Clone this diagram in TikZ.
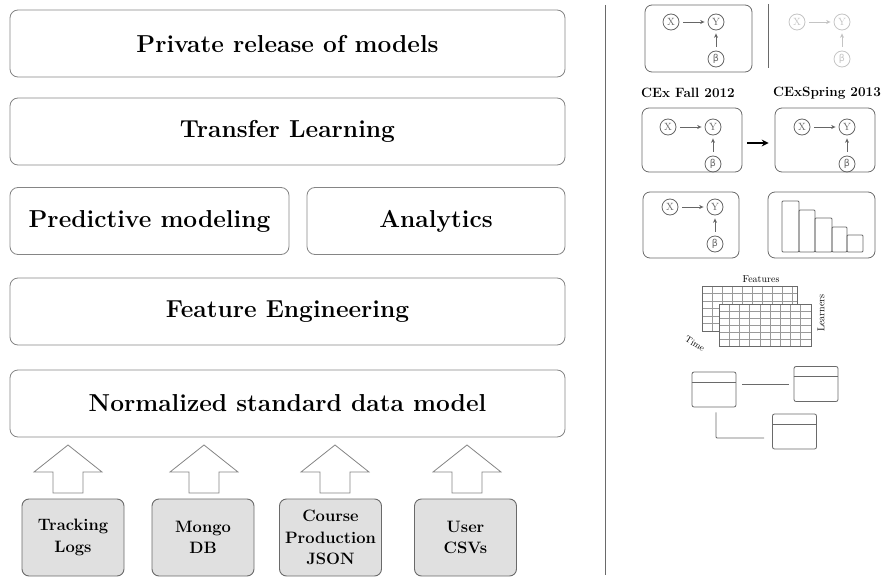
\documentclass[tikz,border=0pt]{standalone}
\usepackage{fontspec}
\newfontfamily\dejavu{DejaVu Sans}
\usetikzlibrary{arrows.meta,calc}
\definecolor{lgray}{HTML}{858585}
\definecolor{rgray}{HTML}{6A6A6A}
\definecolor{srcfill}{HTML}{E0E0E0}
\definecolor{ggray}{HTML}{666666}
\definecolor{fgray}{HTML}{C4C4C4}
\definecolor{gridc}{HTML}{9A9A9A}
\tikzset{
  bigbox/.style={draw=lgray, line width=0.8pt, rounded corners=8pt, minimum height=67pt, inner sep=0pt, font=\fontsize{24.5}{28}\selectfont\bfseries},
  srcbox/.style={draw=rgray, fill=srcfill, line width=0.9pt, rounded corners=7pt, minimum width=102pt, minimum height=77pt, inner sep=0pt, align=center, font=\fontsize{16.5}{21.5}\selectfont\bfseries},
  pbox/.style={draw=rgray, line width=0.8pt, rounded corners=7pt, inner sep=0pt},
  tbox/.style={draw=rgray, line width=0.8pt, rounded corners=2pt, inner sep=0pt, minimum width=44pt, minimum height=35pt},
  gnode/.style={circle, draw=#1, text=#1, minimum size=16pt, inner sep=0pt, line width=0.8pt, font=\fontsize{10.5}{11}\selectfont},
  garrow/.style={-{Stealth[length=4.5pt,width=4pt]}, draw=#1, line width=0.7pt, shorten >=3pt, shorten <=4pt},
  blockarrow/.style={draw=lgray, fill=white, line width=0.8pt},
  lab/.style={font=\fontsize{13.5}{16}\selectfont\bfseries, inner sep=0pt},
  pics/bn/.style={code={
    \node[gnode=#1] (-x) at (0,0) {X};
    \node[gnode=#1] (-y) at (45,0) {Y};
    \node[gnode=#1] (-b) at (45,37) {{\dejavu\fontsize{9.5}{10}\selectfont β}};
    \draw[garrow=#1] (-x) -- (-y);
    \draw[garrow=#1] (-b) -- (-y);
  }},
  pics/uparr/.style={code={
    \draw[blockarrow] (0,0) -- (34,27) -- (15,27) -- (15,48) -- (-15,48) -- (-15,27) -- (-34,27) -- cycle;
  }}
}
\begin{document}
\begin{tikzpicture}[x=1pt,y=-1pt]
\useasboundingbox (0,0) rectangle (881,578);

% left stack
\node[bigbox, minimum width=555pt] (priv) at (287.5,43.5) {Private release of models};
\node[bigbox, minimum width=555pt] (trans) at (287.5,131.5) {Transfer Learning};
\node[bigbox, minimum width=279pt] (pred) at (149.5,221) {Predictive modeling};
\node[bigbox, minimum width=258pt] (anal) at (436,221) {Analytics};
\node[bigbox, minimum width=555pt] (feat) at (287.5,311.5) {Feature Engineering};
\node[bigbox, minimum width=555pt] (norm) at (287.5,403.5) {Normalized standard data model};

% sources
\node[srcbox] (s1) at (73,537.5) {Tracking\\Logs};
\node[srcbox] (s2) at (203,537.5) {Mongo\\DB};
\node[srcbox] (s3) at (330.5,537.5) {Course\\Production\\JSON};
\node[srcbox] (s4) at (465.5,537.5) {User\\CSVs};

\pic at (68,445) {uparr};
\pic at (204,445) {uparr};
\pic at (335,445) {uparr};
\pic at (467,445) {uparr};

% separator
\draw[draw=rgray, line width=1pt] (605,5) -- (605,575);

% right panel, row 1
\node[pbox, minimum width=107pt, minimum height=67pt] (top) at (698.5,38.5) {};
\pic (g1) at (671,22) {bn=ggray};
\draw[draw=rgray, line width=0.8pt] (768,4) -- (768,68);
\pic (g0) at (797,22) {bn=fgray};

% labels
\node[lab] (lab1) at (688,93) {CEx Fall 2012};
\node[lab] (lab2) at (827,93) {CExSpring 2013};

% row 2
\node[pbox, minimum width=100pt, minimum height=64pt] (r2a) at (692,140) {};
\node[pbox, minimum width=100pt, minimum height=64pt] (r2b) at (825,140) {};
\pic (g2) at (668,127) {bn=ggray};
\pic (g3) at (802,127) {bn=ggray};
\draw[-{Stealth[length=7pt,width=7pt,inset=2.5pt]}, line width=1.3pt, shorten <=5pt, shorten >=6pt] ([yshift=-3pt]r2a.east) -- ([yshift=-3pt]r2b.west);

% row 3
\node[pbox, minimum width=96pt, minimum height=66pt] (r3a) at (691,225) {};
\node[pbox, minimum width=107pt, minimum height=66pt] (r3b) at (821.5,225) {};
\pic (g4) at (670,207) {bn=ggray};
\foreach \xa/\xb/\yt in {782/799/201, 799/815/210, 815/832/218, 832/847/227, 847/863/235}
  \draw[draw=rgray, line width=0.8pt, rounded corners=1pt] (\xa,252) rectangle (\xb,\yt);

% grids
\node[inner sep=0pt, font=\fontsize{10}{12}\selectfont] (feats) at (761,279) {Features};
\fill[white] (702,286) rectangle (797,331);
\foreach \i in {1,...,9} \draw[gridc, line width=0.4pt] (702+\i*10,286) -- (702+\i*10,331);
\foreach \j in {1,...,5} \draw[gridc, line width=0.4pt] (702,286+\j*7.5) -- (797,286+\j*7.5);
\draw[draw=rgray, line width=0.7pt] (702,286) rectangle (797,331);
\fill[white] (719,304) rectangle (811,346);
\foreach \i in {1,...,8} \draw[gridc, line width=0.4pt] (719+\i*10.2,304) -- (719+\i*10.2,346);
\foreach \j in {1,...,5} \draw[gridc, line width=0.4pt] (719,304+\j*7) -- (811,304+\j*7);
\draw[draw=rgray, line width=0.7pt] (719,304) rectangle (811,346);
\node[inner sep=0pt, rotate=90, font=\fontsize{10}{12}\selectfont] (learn) at (821,313) {Learners};
\node[inner sep=0pt, rotate=-32, font=\fontsize{9}{11}\selectfont] (time) at (695,344) {Time};

% tables
\node[tbox] (t1) at (714,389.5) {};
\node[tbox] (t2) at (816,384) {};
\node[tbox] (t3) at (794.5,431.5) {};
\foreach \t in {t1,t2,t3}
  \draw[draw=rgray, line width=0.8pt] ($(\t.north west)+(0,10.5)$) -- ($(\t.north east)+(0,10.5)$);
\draw[draw=rgray, line width=0.8pt, shorten <=6pt, shorten >=5pt] (t1.east |- t2.west) -- (t2.west);
\draw[draw=rgray, line width=0.8pt, rounded corners=1pt] ([xshift=2pt,yshift=-5pt]t1.south) |- ([xshift=-8pt,yshift=-6.5pt]t3.west);
\end{tikzpicture}
\end{document}
